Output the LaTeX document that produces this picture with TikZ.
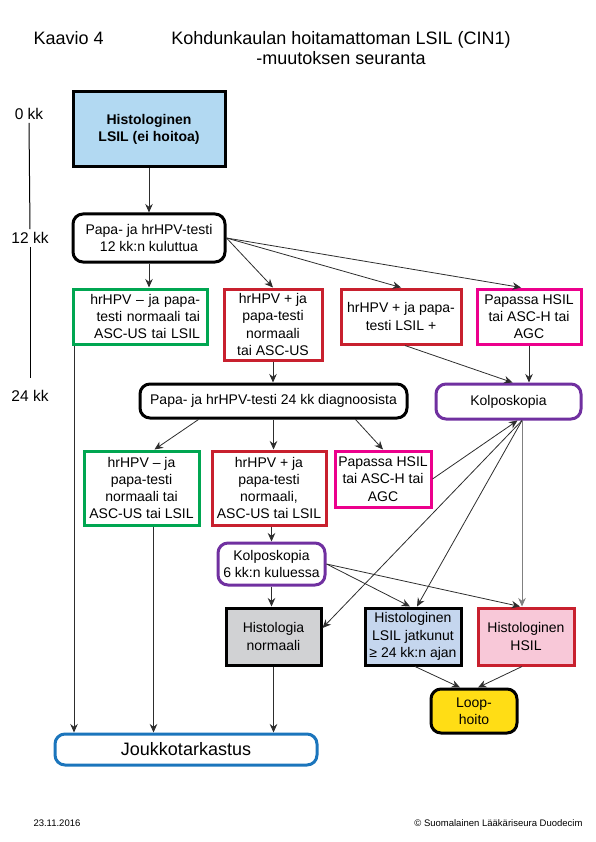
\documentclass[tikz,border=0pt]{standalone}
\usepackage{fontspec}
\setmainfont{Liberation Sans}
\usetikzlibrary{arrows.meta}
\definecolor{cgreen}{RGB}{0,166,81}
\definecolor{cred}{RGB}{200,32,46}
\definecolor{cmagenta}{RGB}{236,0,140}
\definecolor{cpurple}{RGB}{112,48,160}
\definecolor{cblue}{RGB}{27,117,188}
\definecolor{fillA}{RGB}{178,217,242}
\definecolor{fillgray}{RGB}{209,210,212}
\definecolor{fillblue}{RGB}{197,214,238}
\definecolor{fillpink}{RGB}{248,200,216}
\definecolor{fillyellow}{RGB}{255,221,21}
\definecolor{arrowgray}{RGB}{45,45,45}
\tikzset{
	box/.style={draw, line width=3pt, inner sep=0pt, align=center, font=\fontsize{14}{17.3}\selectfont},
	rbox/.style={box, rounded corners=10pt},
	arr/.style={-{Stealth[length=8.5pt,width=7.5pt]}, line width=0.8pt, arrowgray},
}

\begin{document}
\begin{tikzpicture}[x=1pt,y=-1pt]
	\useasboundingbox (0,0) rectangle (595,842);
	% titles
	\node[anchor=west, font=\fontsize{18}{20}\selectfont] (kaavio) at (30,38) {Kaavio 4};
	\node[align=center, font=\fontsize{18}{20}\selectfont] (title) at (341,48) {Kohdunkaulan hoitamattoman LSIL (CIN1)\\-muutoksen seuranta};
	% time line
	\node[font=\fontsize{15.5}{17}\selectfont, inner sep=2pt] (t0) at (29,114) {0 kk};
	\node[font=\fontsize{15.5}{17}\selectfont, inner sep=2pt] (t12) at (30,238) {12 kk};
	\node[font=\fontsize{15.5}{17}\selectfont, inner sep=2pt] (t24) at (30,396) {24 kk};
	\coordinate (tend) at (30,378);
	\draw[line width=1pt] ([yshift=-1pt]t0.south) -- ([yshift=1pt]t12.north);
	\draw[line width=1pt] ([yshift=-1pt]t12.south) -- (tend);

	% 0 and 12 months
	\node[box, fill=fillA, minimum width=152pt, minimum height=75pt, font=\fontsize{14}{17.3}\selectfont\bfseries] (hist) at (149,129.5) {Histologinen\\LSIL (ei hoitoa)};
	\node[rbox, minimum width=152pt, minimum height=48pt] (test12) at (149,238) {Papa- ja hrHPV-testi\\12 kk:n kuluttua};
	\node[box, draw=cgreen, minimum width=134pt, minimum height=55pt, text width=120pt, inner xsep=7pt, align=right] (neg12) at (140,316.5) {hrHPV -- ja papa-\\testi normaali tai\\ASC-US tai LSIL};
	\node[box, draw=cred, minimum width=98pt, minimum height=71pt] (pos12) at (273,324.5) {hrHPV + ja\\papa-testi\\normaali\\tai ASC-US};
	\node[box, draw=cred, minimum width=120pt, minimum height=55pt] (lsil12) at (401,316.5) {hrHPV + ja papa-\\testi LSIL +};
	\node[box, draw=cmagenta, minimum width=104pt, minimum height=55pt] (hsil12) at (529,316.5) {Papassa HSIL\\tai ASC-H tai\\AGC};

	% 24 months
	\node[rbox, minimum width=267pt, minimum height=34pt] (test24) at (273.5,401) {Papa- ja hrHPV-testi 24 kk diagnoosista};
	\node[rbox, draw=cpurple, minimum width=145pt, minimum height=35pt] (kolpo) at (508.5,401.5) {Kolposkopia};
	\node[box, draw=cgreen, minimum width=115pt, minimum height=74pt] (neg24) at (141.5,488) {hrHPV -- ja\\papa-testi\\normaali tai\\ASC-US tai LSIL};
	\node[box, draw=cred, minimum width=114pt, minimum height=74pt] (pos24) at (269,488) {hrHPV + ja\\papa-testi\\normaali,\\ASC-US tai LSIL};
	\node[box, draw=cmagenta, minimum width=96pt, minimum height=56pt] (hsil24) at (383,479) {Papassa HSIL\\tai ASC-H tai\\AGC};
	\node[rbox, draw=cpurple, minimum width=107pt, minimum height=42pt] (kolpo6) at (271.5,564) {Kolposkopia\\6 kk:n kuluessa};

	% outcomes
	\node[box, fill=fillgray, minimum width=95pt, minimum height=57pt] (normaali) at (273.5,636.5) {Histologia\\normaali};
	\node[box, fill=fillblue, minimum width=96pt, minimum height=57pt] (jatkunut) at (413,636.5) {Histologinen\\LSIL jatkunut\\≥ 24 kk:n ajan};
	\node[box, draw=cred, fill=fillpink, minimum width=96pt, minimum height=57pt] (hsil) at (526,636.5) {Histologinen\\HSIL};
	\node[rbox, fill=fillyellow, minimum width=86pt, minimum height=44pt] (loop) at (474,711) {Loop-\\hoito};
	\node[rbox, draw=cblue, minimum width=262pt, minimum height=31pt, font=\fontsize{18}{20}\selectfont] (jouk) at (186,749.5) {Joukkotarkastus};

	% footer
	\node[anchor=west, font=\fontsize{9.5}{11}\selectfont] (date) at (30,823) {23.11.2016};
	\node[anchor=east, font=\fontsize{9.5}{11}\selectfont] (copy) at (586,823) {© Suomalainen Lääkäriseura Duodecim};

	% from 0 and 12 months
	\draw[arr] (hist) -- (test12);
	\draw[arr] (test12.south) -- (test12.south |- neg12.north);
	\draw[arr] (test12.east) -- (pos12.north);
	\draw[arr] (test12.east) -- (lsil12.north);
	\draw[arr] (test12.east) -- ([xshift=-8pt]hsil12.north);
	\draw[arr] ([xshift=-66pt]neg12.south) -- ([xshift=-66pt]neg12.south |- jouk.north);
	\draw[arr] (pos12.south) -- (pos12.south |- test24.north);
	\draw[arr] ([xshift=4pt]lsil12.south) -- ([xshift=4pt]kolpo.north);
	\draw[arr] (hsil12.south) -- (hsil12.south |- kolpo.north);
	% from 24 months
	\draw[arr] ([xshift=-75pt]test24.south) -- ([xshift=13pt]neg24.north);
	\draw[arr] (test24.south) -- (test24.south |- neg24.north);
	\draw[arr] ([xshift=82pt]test24.south) -- (hsil24.north);
	\draw[arr] (hsil24.east) -- ([xshift=9pt]kolpo.south);
	\draw[arr] ([xshift=12pt]neg24.south) -- ([xshift=12pt]neg24.south |- jouk.north);
	\draw[arr] (kolpo6.north |- pos24.south) -- (kolpo6.north);
	% from colposcopies
	\draw[arr] (kolpo6.east) -- ([xshift=-3pt]jatkunut.north);
	\draw[arr] (kolpo6.east) -- ([xshift=-6pt]hsil.north);
	\draw[arr] (kolpo6.south) -- (kolpo6.south |- normaali.north);
	\draw[arr] ([xshift=13.5pt]kolpo.south) -- ([yshift=8.5pt]normaali.east);
	\draw[arr] ([xshift=13.5pt]kolpo.south) -- ([xshift=4pt]jatkunut.north);
	\draw[arr, gray] ([xshift=13.5pt]kolpo.south) -- ([xshift=13.5pt]kolpo.south |- hsil.north);
	% to screening and loop
	\draw[arr] (normaali.south) -- (normaali.south |- jouk.north);
	\draw[arr] ([xshift=2pt]jatkunut.south) -- ([xshift=-14pt]loop.north);
	\draw[arr] ([xshift=-4pt]hsil.south) -- ([xshift=4pt]loop.north);
\end{tikzpicture}
\end{document}
